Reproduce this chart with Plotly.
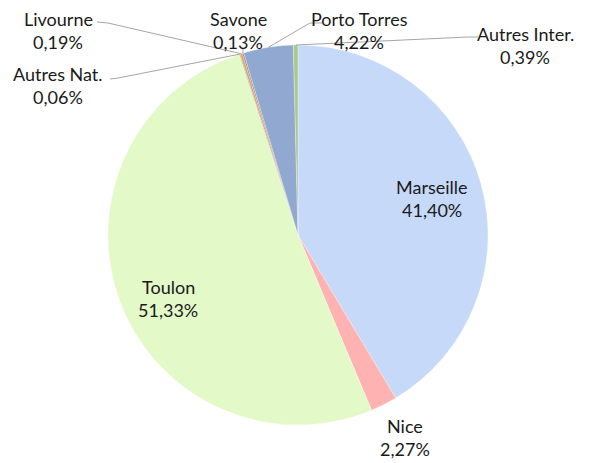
import math
import plotly.graph_objects as go

# ---- data ----
labels = ["Marseille", "Nice", "Toulon", "Autres Nat.", "Livourne", "Savone", "Porto Torres", "Autres Inter."]
values = [41.40, 2.27, 51.33, 0.06, 0.19, 0.13, 4.22, 0.39]
pct_text = ["41,40%", "2,27%", "51,33%", "0,06%", "0,19%", "0,13%", "4,22%", "0,39%"]
colors = ["#c6d9f9", "#ffb2b2", "#e4f9c8", "#3d9cc0", "#f79646", "#7f8fa9", "#91a8d0", "#a9c98c"]

# page is 592x463; the html body adds an 8px margin, so the figure is offset
OFF = 8
W, H = 592 - OFF, 463 - OFF
CX, CY, R = 298, 235, 190  # pie geometry in page px

# label positions (page px, centre of name line)
label_pos = {
    "Marseille": (432, 187),
    "Nice": (405, 426),
    "Toulon": (168, 287),
    "Autres Nat.": (58, 74),
    "Livourne": (58, 19),
    "Savone": (238, 19),
    "Porto Torres": (359, 19),
    "Autres Inter.": (525, 34),
}
# elbow points for leader lines (text side)
leader = {
    "Livourne": [(97, 22), (108, 23)],
    "Autres Nat.": [(110, 79), (118, 78)],
    "Savone": [(243, 49)],
    "Porto Torres": [(322, 23), (310, 23)],
    "Autres Inter.": [(478, 37), (468, 37)],
}

def px(x, y):
    return (x - OFF) / W, 1 - (y - OFF) / H

cxp, cyp = CX - OFF, CY - OFF
fig = go.Figure(go.Pie(
    labels=labels, values=values, sort=False, direction="clockwise", rotation=0,
    marker=dict(colors=colors, line=dict(color="rgba(255,255,255,0.6)", width=0.5)),
    textinfo="none", hoverinfo="label+percent", showlegend=False,
    domain=dict(x=[(cxp - R) / W, (cxp + R) / W], y=[(H - cyp - R) / H, (H - cyp + R) / H]),
))

font = dict(family="Lato, Open Sans, sans-serif", size=18, color="#1a1a1a")
annotations = []
shapes = []
total = sum(values)
cum = 0.0
for lab, v, p in zip(labels, values, pct_text):
    mid = (cum + v / 2) / total
    cum += v
    x, y = label_pos[lab]
    for text, yy in ((lab, y), (p, y + 23)):
        ax, ay = px(x, yy)
        annotations.append(dict(x=ax, y=ay, xref="paper", yref="paper", text=text,
                                showarrow=False, font=font, xanchor="center", yanchor="middle",
                                borderpad=0))
    if lab in leader:
        ang = 2 * math.pi * mid
        ex, ey = CX + R * math.sin(ang), CY - R * math.cos(ang)
        pts = leader[lab] + [(ex, ey)]
        path = "M " + " L ".join(f"{px(a, b)[0]:.5f},{px(a, b)[1]:.5f}" for a, b in pts)
        shapes.append(dict(type="path", path=path, xref="paper", yref="paper",
                           line=dict(color="#a6a6a6", width=1)))

fig.update_layout(width=W, height=H, margin=dict(l=0, r=0, t=0, b=0),
                  paper_bgcolor="white", plot_bgcolor="white",
                  annotations=annotations, shapes=shapes)
fig.write_html("out.html")
